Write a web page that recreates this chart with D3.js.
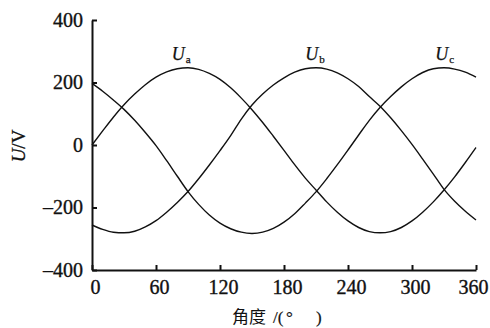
<!DOCTYPE html>
<html>
<head>
<meta charset="utf-8">
<script src="https://cdn.jsdelivr.net/npm/d3@7"></script>
<style>
  html, body { margin: 0; padding: 0; background: #fff; }
  svg { display: block; }
</style>
</head>
<body>
<svg id="chart" width="490" height="328"></svg>
<script>
// ---- data ----
const angles = [0,10,20,30,40,50,60,70,80,90,100,110,120,130,140,150,160,170,180,
                190,200,210,220,230,240,250,260,270,280,290,300,310,320,330,340,350,360];
const Ua = [0,45,89,129,163,193,217,234,244,247,242,229,210,183,150,113,72,28,-17,
            -63,-106,-144,-182,-215,-243,-264,-277,-281,-277,-264,-243,-215,-182,-144,-102,-56,-8];
const Ub = [-256,-270,-279,-281,-276,-262,-242,-215,-184,-149,-108,-64,-18,30,83,128,163,192,215,
            233,244,247,243,231,212,187,155,124,87,46,2,-45,-93,-142,-180,-212,-240];
const Uc = [197,172,144,114,79,40,-2,-50,-100,-149,-190,-224,-250,-268,-279,-283,-279,-267,-247,
            -220,-186,-150,-108,-63,-16,32,79,120,155,186,212,232,244,247,243,233,217];
const seriesNames = ["a","b","c"];
const seriesValues = [Ua, Ub, Uc];
const labelAngles = [88, 213, 335];
const labelValues = [247, 247, 247];
const xTicks = [0,60,120,180,240,300,360];
const yTicks = [-400,-200,0,200,400];

// ---- layout ----
const SERIF = "'Liberation Serif'";
const INK = "#111";
const svg = d3.select("#chart");
const x = d3.scaleLinear().domain([0,360]).range([92,476]);
const y = d3.scaleLinear().domain([-400,400]).range([270,20]);

function ink(sel, w) {
  return sel.attr("fill", INK).style("stroke", INK).style("stroke-width", (w || 0.3) + "px");
}

// curves
const line = d3.line()
  .x((d,i) => x(angles[i]))
  .y(d => y(d))
  .curve(d3.curveMonotoneX);

svg.append("g").selectAll("path")
  .data(seriesValues)
  .join("path")
  .attr("d", d => line(d))
  .attr("fill", "none")
  .attr("stroke", INK)
  .attr("stroke-width", 1.4);

// axes
const xAxis = d3.axisBottom(x).tickValues(xTicks).tickSizeInner(-5).tickSizeOuter(0).tickPadding(10);
const yAxis = d3.axisLeft(y).tickValues(yTicks).tickSizeInner(-5).tickSizeOuter(0).tickPadding(9)
  .tickFormat(d => d < 0 ? "\u2013" + Math.abs(d) : String(d));

const gx = svg.append("g").attr("transform", `translate(0,${y(-400)})`).call(xAxis);
const gy = svg.append("g").attr("transform", `translate(${x(0)},0)`).call(yAxis);

[gx, gy].forEach(g => {
  g.attr("font-family", null).attr("font-size", null);
  g.select(".domain").attr("stroke", INK).attr("stroke-width", 2);
  g.selectAll(".tick line").attr("stroke", INK).attr("stroke-width", 2);
  ink(g.selectAll(".tick text"), 0.35)
    .style("font-family", SERIF)
    .style("font-size", "20px");
});
gx.selectAll(".tick text").attr("dx", (d) => d === 360 ? -3 : 3);

// series labels
const lab = svg.append("g");
seriesNames.forEach((n, i) => {
  const t = ink(lab.append("text"), 0.25)
    .attr("x", x(labelAngles[i]) - 14)
    .attr("y", y(labelValues[i]) - 8)
    .style("font-family", SERIF)
    .style("font-size", "18px");
  t.append("tspan").text("U").style("font-style", "italic");
  t.append("tspan").text(n).attr("dx", 1).attr("dy", 3).style("font-size", "11px");
});

// y axis title
const yt = ink(svg.append("text"), 0.3)
  .attr("transform", "translate(25,146) rotate(-90)")
  .attr("text-anchor", "middle")
  .style("font-family", SERIF)
  .style("font-size", "19px");
yt.append("tspan").text("U").style("font-style", "italic");
yt.append("tspan").text("/V");

// x axis title
const xt = ink(svg.append("text"), 0.2)
  .attr("y", 323)
  .style("font-family", SERIF)
  .style("font-size", "17px");
xt.append("tspan").attr("x", 232).text("角度").style("font-family", "'Noto Sans CJK SC'").style("stroke-width", "0px");
xt.append("tspan").attr("x", 273).text("/(");
xt.append("tspan").attr("x", 286).text("°");
xt.append("tspan").attr("x", 316).text(")");
</script>
</body>
</html>
